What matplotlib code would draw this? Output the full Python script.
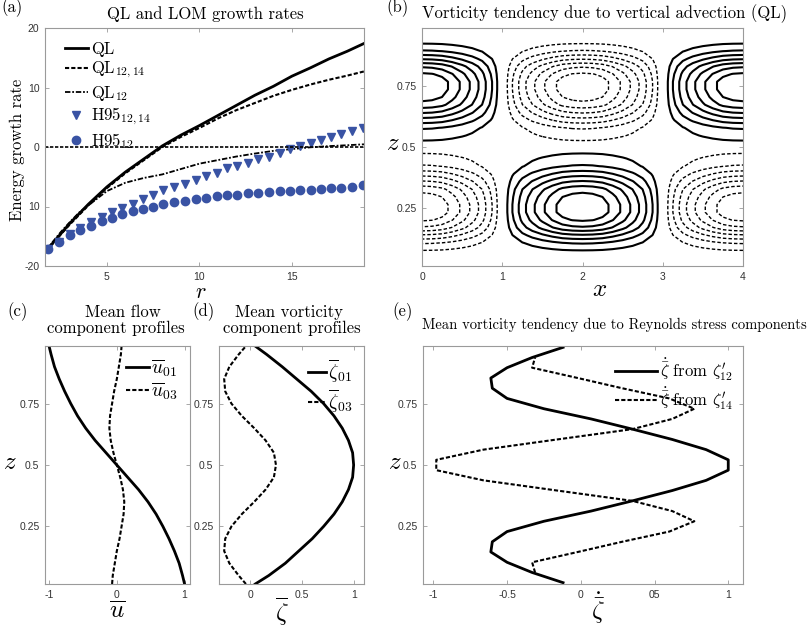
import numpy as np
import matplotlib
matplotlib.use('Agg')
import matplotlib.pyplot as plt

plt.rcParams['mathtext.fontset'] = 'cm'
plt.rcParams['font.family'] = 'cmr10'
plt.rcParams['axes.unicode_minus'] = False

# (a) growth rates
r_line = [1.7, 2, 2.5, 3, 3.5, 4, 5, 6, 7, 8, 9, 10, 11, 12, 13, 14, 15, 16, 17, 18, 18.9]
ql = [-17.5, -16.4, -14.6, -12.8, -11.2, -9.6, -6.7, -4.2, -2.0, 0.2, 2.0, 3.6, 5.3, 7.0, 8.7,
      10.2, 11.9, 13.3, 14.8, 16.1, 17.4]
ql_12_14 = [-17.5, -16.5, -14.7, -13.0, -11.4, -9.8, -6.9, -4.4, -2.2, 0.0, 1.7, 3.2, 4.8, 6.2,
            7.4, 8.6, 9.6, 10.5, 11.3, 12.0, 12.7]
ql_12 = [-17.5, -16.2, -14.3, -12.6, -11.0, -9.8, -7.4, -6.0, -5.2, -4.6, -3.7, -2.8, -2.2, -1.6,
         -1.1, -0.65, -0.35, -0.05, 0.15, 0.3, 0.45]

r_pts = [1.83, 2.42, 3.0, 3.54, 4.12, 4.71, 5.25, 5.79, 6.39, 6.96, 7.5, 8.05, 8.62, 9.22, 9.81,
         10.35, 10.93, 11.47, 12.05, 12.64, 13.18, 13.77, 14.35, 14.89, 15.43, 16.06, 16.6,
         17.09, 17.68, 18.23, 18.82]
h95_12_14 = [-17.1, -16.0, -14.6, -13.6, -12.6, -11.8, -10.9, -10.2, -9.5, -8.7, -8.1, -7.3,
             -6.7, -6.2, -5.6, -4.9, -4.4, -3.6, -3.2, -2.7, -2.1, -1.6, -1.0, -0.4, 0.1, 0.7,
             1.2, 1.7, 2.2, 2.7, 3.2]
h95_12 = [-17.1, -16.0, -14.8, -14.0, -13.3, -12.4, -11.9, -11.2, -10.8, -10.5, -10.1, -9.5,
          -9.2, -9.0, -8.7, -8.5, -8.3, -8.1, -8.0, -7.8, -7.7, -7.6, -7.45, -7.4, -7.3, -7.2,
          -7.05, -6.95, -6.85, -6.7, -6.4]

# (b) vorticity tendency field: x and z profiles
x_grid = [i / 8 for i in range(33)]
f_x = [1.0, 0.985, 0.94, 0.845, 0.73, 0.6, 0.45, 0.25, 0.0, -0.25, -0.45, -0.6, -0.73, -0.845,
       -0.94, -0.985, -1.0, -0.985, -0.94, -0.845, -0.73, -0.6, -0.45, -0.25, 0.0, 0.25, 0.45,
       0.6, 0.73, 0.845, 0.94, 0.985, 1.0]
z_grid = [(k + 0.5) / 32 for k in range(32)]
g_z = [-0.01, -0.06, -0.12, -0.262, -0.483, -0.732, -0.895, -0.99, -0.99, -0.93, -0.828,
       -0.639, -0.446, -0.262, -0.184, -0.095,
       0.095, 0.184, 0.262, 0.446, 0.639, 0.828, 0.93, 0.99, 0.99, 0.895, 0.732, 0.483, 0.262,
       0.12, 0.06, 0.01]
levels = [-0.875, -0.75, -0.625, -0.5, -0.375, -0.25, -0.125,
          0.125, 0.25, 0.375, 0.5, 0.625, 0.75, 0.875]

# (c), (d) mean profiles
z_prof = [0.0156, 0.05, 0.1, 0.15, 0.2, 0.25, 0.3, 0.35, 0.4, 0.45, 0.5, 0.55, 0.6, 0.65, 0.7,
          0.75, 0.8, 0.85, 0.9, 0.95, 0.984]
u01 = [1.0, 0.97, 0.92, 0.85, 0.77, 0.68, 0.58, 0.46, 0.32, 0.16, 0.0, -0.16, -0.32, -0.46,
       -0.58, -0.68, -0.77, -0.85, -0.92, -0.97, -1.0]
u03 = [-0.07, -0.06, -0.03, 0.0, 0.04, 0.07, 0.1, 0.11, 0.09, 0.05, 0.0, -0.05, -0.09, -0.11,
       -0.1, -0.07, -0.04, 0.0, 0.03, 0.06, 0.07]
zeta01 = [0.05, 0.18, 0.34, 0.47, 0.6, 0.71, 0.81, 0.89, 0.95, 0.99, 1.0, 0.99, 0.95, 0.89,
          0.81, 0.71, 0.59, 0.45, 0.31, 0.16, 0.05]
zeta03 = [-0.04, -0.11, -0.2, -0.25, -0.24, -0.18, -0.08, 0.04, 0.15, 0.23, 0.25, 0.23, 0.15,
          0.04, -0.08, -0.18, -0.24, -0.25, -0.2, -0.11, -0.04]

# (e) Reynolds stress tendencies
z_e = [0.021, 0.0625, 0.104, 0.146, 0.1875, 0.229, 0.271, 0.3125, 0.354, 0.396, 0.4375, 0.479,
       0.521, 0.5625, 0.604, 0.646, 0.6875, 0.729, 0.771, 0.8125, 0.854, 0.896, 0.9375, 0.979]
tend_12 = [-0.12, -0.33, -0.5, -0.61, -0.6, -0.5, -0.25, 0.07, 0.35, 0.62, 0.85, 1.0, 1.0, 0.85,
           0.62, 0.35, 0.07, -0.25, -0.5, -0.6, -0.61, -0.5, -0.33, -0.12]
z_e14 = z_e[1:-1]
tend_14 = [-0.31, -0.33, -0.02, 0.28, 0.6, 0.77, 0.62, 0.35, -0.16, -0.66, -0.98, -0.98, -0.66,
           -0.16, 0.35, 0.62, 0.77, 0.6, 0.28, -0.02, -0.33, -0.31]

W, H = 810, 632
fig = plt.figure(figsize=(W / 100, H / 100), dpi=100)


def box(l, t, r, b):
    return [l / W, 1 - b / H, (r - l) / W, (b - t) / H]


def txt(x, y, s, **kw):
    fig.text(x / W, 1 - y / H, s, ha='center', va='center', **kw)


def style(ax):
    for s in ax.spines.values():
        s.set_color('#9a9a9a')
        s.set_linewidth(0.8)
    ax.tick_params(direction='in', top=True, right=True, length=3, width=0.6,
                   color='#9a9a9a', labelsize=7.5, labelcolor='#333333',
                   labelfontfamily='Liberation Sans', pad=4)


def zticks(ax):
    ax.set_ylim(1 / 64, 63 / 64)
    ax.set_yticks([0.25, 0.5, 0.75])
    ax.set_yticklabels(['0.25', '0.5', '0.75'])


blue = '#3953a4'

# (a)
ax = fig.add_axes(box(45, 28, 364, 266))
ax.plot(r_line, ql, 'k-', lw=2, label='QL')
ax.plot(r_line, ql_12_14, color='k', ls=(0, (2, 1)), lw=1.5, label=r'QL$_{12,14}$')
ax.plot(r_line, ql_12, color='k', ls=(0, (3, 1, 1, 1)), lw=1.3, label=r'QL$_{12}$')
ax.plot(r_pts, h95_12_14, 'v', color=blue, ms=6, label=r'H95$_{12,14}$')
ax.plot(r_pts, h95_12, 'o', color=blue, ms=6, label=r'H95$_{12}$')
ax.axhline(0, color='k', ls=(0, (2, 1)), lw=1.2)
ax.set_xlim(1.65, 18.9)
ax.set_ylim(-20, 20)
ax.set_xticks([5, 10, 15])
ax.set_yticks([-20, -10, 0, 10, 20])
ax.set_yticklabels(['-20', '10', '0', '10', '20'])
style(ax)
ax.legend(loc='upper left', bbox_to_anchor=(0.02, 1.0), frameon=False, fontsize=12,
          handlelength=1.4, handletextpad=0.2, labelspacing=0.2, borderaxespad=0.4)

# (b)
ax = fig.add_axes(box(422, 28, 743, 266))
field = np.outer(g_z, f_x)
pos = [lv for lv in levels if lv > 0]
neg = [lv for lv in levels if lv < 0]
ax.contour(x_grid, z_grid, field, levels=pos, colors='k', linewidths=1.5,
           linestyles='solid')
ax.contour(x_grid, z_grid, field, levels=neg, colors='k', linewidths=1.0,
           linestyles=[(0, (2.5, 1.5))])
ax.set_xlim(0, 4)
ax.set_xticks([0, 1, 2, 3, 4])
zticks(ax)
style(ax)

# (c)
ax = fig.add_axes(box(45, 346, 190, 584))
ax.plot(u01, z_prof, 'k-', lw=2, label=r'$\overline{u}_{01}$')
ax.plot(u03, z_prof, color='k', ls=(0, (2, 1)), lw=1.5, label=r'$\overline{u}_{03}$')
ax.set_xlim(-1.06, 1.08)
ax.set_xticks([-1, 0, 1])
zticks(ax)
style(ax)
ax.legend(loc='upper right', frameon=False, fontsize=14, handlelength=1.2,
          handletextpad=0.1, labelspacing=0.1, borderaxespad=0.2)

# (d)
ax = fig.add_axes(box(219, 346, 364, 584))
ax.plot(zeta01, z_prof, 'k-', lw=2, label=r'$\overline{\zeta}_{01}$')
ax.plot(zeta03, z_prof, color='k', ls=(0, (2, 1)), lw=1.5, label=r'$\overline{\zeta}_{03}$')
ax.set_xlim(-0.3, 1.1)
ax.set_xticks([0, 0.5, 1])
ax.set_xticklabels(['0', '0.5', '1'])
zticks(ax)
style(ax)
ax.legend(loc='upper right', frameon=False, fontsize=14, handlelength=0.9,
          handletextpad=0.1, labelspacing=0.1, borderaxespad=0.2)

# (e)
ax = fig.add_axes(box(423, 346, 743, 584))
ax.plot(tend_12, z_e, 'k-', lw=2, label=r"$\dot{\bar{\zeta}}$ from $\zeta^{\prime}_{12}$")
ax.plot(tend_14, z_e14, color='k', ls=(0, (2, 1)), lw=1.5,
        label=r"$\dot{\bar{\zeta}}$ from $\zeta^{\prime}_{14}$")
ax.set_xlim(-1.07, 1.1)
ax.set_xticks([-1, -0.5, 0, 0.5, 1])
ax.set_xticklabels(['-1', '-0.5', '0', '05', '1'])
zticks(ax)
style(ax)
ax.legend(loc='upper right', frameon=False, fontsize=12, handlelength=2.5,
          handletextpad=0.2, labelspacing=0.1, borderaxespad=0.2)

# panel letters, titles and axis labels
txt(12, 8, '(a)', fontsize=12)
txt(398, 8, '(b)', fontsize=12)
txt(18, 312, '(c)', fontsize=12)
txt(203, 312, '(d)', fontsize=12)
txt(403, 312, '(e)', fontsize=12)
txt(205, 14, 'QL and LOM growth rates', fontsize=12)
txt(605, 14, 'Vorticity tendency due to vertical advection (QL)', fontsize=12)
txt(123, 312, 'Mean flow', fontsize=12)
txt(116, 328, 'component profiles', fontsize=12)
txt(289, 312, 'Mean vorticity', fontsize=12)
txt(292, 328, 'component profiles', fontsize=12)
txt(614, 325, 'Mean vorticity tendency due to Reynolds stress components', fontsize=10.5)
txt(17, 150, 'Energy growth rate', fontsize=12, rotation=90)
txt(201, 292, '$r$', fontsize=16)
txt(600, 290, '$x$', fontsize=18)
txt(393, 144, '$z$', fontsize=18)
txt(10, 463, '$z$', fontsize=18)
txt(395, 463, '$z$', fontsize=18)
txt(117, 612, r'$\overline{u}$', fontsize=18)
txt(282, 612, r'$\overline{\zeta}$', fontsize=18)
txt(598, 608, r'$\dot{\bar{\zeta}}$', fontsize=18)

fig.savefig('out.png', dpi=100)
